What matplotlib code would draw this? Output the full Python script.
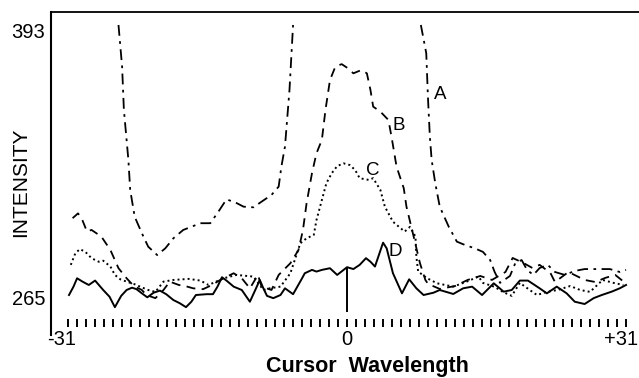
import numpy as np
import matplotlib
matplotlib.use("Agg")
import matplotlib.pyplot as plt
from matplotlib.transforms import ScaledTranslation

plt.rcParams['font.family'] = ['Liberation Sans', 'DejaVu Sans']

# curve A (off scale between the segments -> NaN gaps)
a_x = [-25.4, -25.0, -24.8, -24.3, -24.1, -23.6, -22.8, -22.1, -21.1, -20.2, -19.3,
       -18.2, -17.3, -16.3, -15.2, -14.3, -13.4, -12.4, -11.5, -10.4, -9.5, -8.4,
       -7.6, -7.3, -6.9, -6.4, -6.0,
       np.nan,
       8.2, 8.8, 8.9, 9.0, 9.2, 9.4, 9.8, 10.3, 11.3, 12.2, 13.1, 14.2, 15.1, 15.9,
       16.4, 17.0, 18.1, 18.7, 19.4, 20.0, 20.7, 21.4, 22.3, 23.1, 24.2, 25.3, 26.4,
       27.8, 29.2, 30.3, 31.0]
a_y = [395.4, 375.5, 354.8, 330.9, 316.6, 303.8, 295.9, 289.5, 285.5, 288.7, 293.5,
       297.5, 299.0, 300.7, 300.7, 306.2, 312.1, 310.6, 308.6, 308.3, 311.0, 314.2,
       318.2, 327.7, 337.3, 364.3, 395.4,
       np.nan,
       395.4, 381.9, 370.7, 359.6, 342.0, 330.9, 319.8, 308.6, 299.0, 291.9, 290.3,
       288.7, 287.0, 283.1, 277.4, 272.2, 275.5, 281.7, 283.1, 278.4, 276.0, 279.3,
       280.8, 277.4, 276.0, 277.9, 278.8, 278.8, 278.8, 277.4, 278.4]

# curve B
b_x = [-30.5, -29.9, -29.5, -28.9, -28.4, -27.3, -26.3, -25.4, -24.5, -23.7, -22.8,
       -22.3, -21.3, -20.4, -19.7, -18.7, -18.0, -17.1, -16.0, -15.0, -14.1, -12.6,
       -11.7, -10.8, -9.9, -9.5, -8.4, -7.6, -6.3, -5.4, -4.9, -4.5, -3.9, -3.4,
       -2.8, -2.4, -1.9, -1.3, -0.6, 0.1, 0.7, 1.6, 2.2, 2.6, 2.9, 3.7, 4.6, 5.0,
       5.5, 6.3, 6.6, 7.4, 8.1, 8.7, 9.0, 10.3, 12.0, 13.4, 14.8, 16.1, 17.6, 18.4,
       19.6, 20.6, 21.4, 22.6, 23.1, 24.6, 26.4, 27.6, 28.7, 29.8, 30.9]
b_y = [303.1, 305.4, 303.1, 296.7, 297.5, 294.3, 287.9, 279.2, 274.4, 270.7, 268.8,
       266.4, 264.9, 268.8, 272.8, 271.2, 270.7, 269.6, 269.2, 271.2, 273.6, 276.8,
       274.4, 269.6, 276.0, 270.4, 268.8, 276.0, 281.6, 287.9, 297.5, 310.2, 324.6,
       334.1, 340.5, 354.8, 369.1, 375.5, 376.7, 374.7, 372.3, 373.9, 372.3, 364.3,
       356.4, 354.0, 350.0, 340.5, 327.7, 317.4, 308.6, 294.3, 281.6, 273.6, 271.7,
       269.3, 270.7, 273.6, 275.5, 273.6, 277.4, 284.1, 281.7, 279.3, 280.8, 276.9,
       272.6, 277.4, 273.6, 272.6, 274.6, 276.0, 272.2]

# curve C
c_x = [-30.7, -30.2, -29.7, -29.1, -28.4, -27.6, -27.1, -26.3, -25.8, -25.2, -24.5,
       -23.7, -23.0, -22.1, -21.3, -20.4, -19.3, -17.6, -16.3, -15.4, -13.7, -12.3,
       -10.4, -9.3, -8.6, -7.4, -6.3, -5.2, -4.5, -3.7, -3.4, -2.8, -2.3, -1.7, -1.1,
       -0.4, 0.3, 0.9, 1.4, 2.4, 2.9, 3.7, 4.2, 5.1, 6.4, 7.0, 7.6, 7.7, 7.9, 8.9,
       10.0, 11.8, 13.3, 14.6, 15.1, 16.4, 17.3, 18.3, 19.2, 20.3, 21.1, 22.2, 23.4,
       24.8, 25.9, 27.0, 28.4, 29.6, 30.7]
c_y = [280.8, 286.3, 288.3, 287.1, 284.0, 282.3, 282.8, 280.0, 276.0, 273.9, 272.8,
       271.7, 270.4, 268.8, 267.9, 272.8, 273.6, 274.1, 273.3, 271.2, 274.4, 276.0,
       275.2, 268.8, 269.6, 270.4, 276.8, 291.1, 293.5, 295.1, 302.2, 311.8, 319.8,
       324.6, 328.0, 329.3, 328.5, 326.1, 322.2, 321.4, 322.2, 316.6, 308.6, 301.4,
       296.7, 299.0, 294.3, 284.7, 277.6, 274.4, 272.0, 270.4, 272.8, 275.2, 272.2,
       270.3, 267.9, 266.0, 272.2, 268.8, 266.4, 267.9, 268.8, 270.7, 268.8, 267.9,
       273.6, 272.2, 271.2]

# curve D
d_x = [-30.9, -30.4, -30.0, -29.4, -28.7, -28.0, -27.1, -26.4, -25.8, -25.1, -24.5,
       -23.9, -23.4, -22.8, -22.2, -21.5, -20.8, -20.1, -19.3, -18.6, -17.9, -17.3,
       -16.8, -15.6, -14.9, -14.4, -13.9, -13.4, -12.6, -11.7, -10.8, -10.2, -9.7,
       -9.3, -8.9, -8.2, -7.4, -6.9, -6.0, -5.0, -4.7, -3.9, -3.4, -2.8, -1.9, -1.1,
       0.0, 0.7, 1.4, 2.1, 2.6, 3.1, 4.0, 4.4, 5.1, 6.1, 6.9, 7.7, 8.5, 9.6, 10.3,
       11.8, 12.9, 13.9, 15.0, 16.3, 17.4, 18.3, 19.2, 20.1, 21.4, 22.2, 23.3, 24.4,
       25.3, 26.4, 27.4, 28.3, 29.4, 30.3, 31.0]
d_y = [266.4, 270.4, 274.4, 272.8, 271.2, 273.3, 268.8, 265.6, 260.6, 266.0, 268.8,
       269.9, 269.2, 267.2, 265.3, 267.5, 268.5, 266.8, 264.0, 262.5, 260.6, 263.2,
       266.4, 266.8, 266.8, 270.4, 274.9, 273.3, 270.4, 268.8, 263.2, 268.8, 273.6,
       269.6, 266.0, 264.9, 266.4, 269.6, 266.8, 274.4, 276.8, 278.4, 277.6, 278.4,
       279.2, 276.0, 279.7, 278.8, 280.8, 284.0, 282.3, 280.0, 291.4, 288.7, 276.8,
       267.2, 273.9, 269.6, 266.4, 267.5, 268.8, 266.9, 269.6, 270.4, 266.4, 272.0,
       268.0, 268.8, 273.3, 273.3, 269.6, 267.2, 270.4, 267.2, 263.2, 262.1, 264.9,
       266.4, 268.0, 269.6, 271.2]

# cursor marker at 0
cursor_x = 0.0
cursor_y = (258.3, 279.7)

labels = ["A", "B", "C", "D"]
label_pos = [(10.4, 362.0), (5.7, 347.6), (2.8, 326.1), (5.4, 287.0)]

ytick_vals = [265, 393]
xtick_vals = [-31, 0, 31]
xtick_labels = ["-31", "0", "+31"]

fig = plt.figure(figsize=(6.39, 3.78), dpi=100)
ax = fig.add_axes([51 / 639, 1 - 335 / 378, 588 / 639, 323 / 378])

ax.plot(a_x, a_y, color="k", lw=1.3, linestyle=(0, (6, 3, 1.5, 3)))
ax.plot(b_x, b_y, color="k", lw=1.3, linestyle=(0, (5, 3.5)))
ax.plot(c_x, c_y, color="k", lw=1.4, linestyle=(0, (1, 1.6)))
ax.plot(d_x, d_y, color="k", lw=1.4)
ax.vlines(cursor_x, cursor_y[0], cursor_y[1], color="k", lw=1.4)

for lab, (lx, ly) in zip(labels, label_pos):
    ax.text(lx, ly, lab, fontsize=13.5, ha="center", va="center")

ax.set_xlim(-32.9, 32.44)
ax.set_ylim(247.3, 401.6)

for s in ["right", "bottom"]:
    ax.spines[s].set_visible(False)
ax.spines["left"].set_linewidth(1.5)
ax.spines["top"].set_linewidth(1.3)
ax.spines["bottom"].set_position(("data", 251.15))

ax.set_xticks(xtick_vals)
ax.set_xticklabels(xtick_labels, fontsize=14.5)
ax.set_xticks(np.arange(-31, 32), minor=True)
ax.tick_params(axis="x", which="both", direction="in", length=5.5, width=1.4, pad=2)
xl = ax.get_xticklabels()
xl[0].set_transform(xl[0].get_transform() + ScaledTranslation(-6 / 100, 0, fig.dpi_scale_trans))
xl[2].set_transform(xl[2].get_transform() + ScaledTranslation(-5 / 100, 0, fig.dpi_scale_trans))

ax.set_yticks(ytick_vals)
ax.set_yticklabels([str(v) for v in ytick_vals], fontsize=14.5)
ax.tick_params(axis="y", length=0, pad=4)

ax.set_ylabel("INTENSITY", fontsize=15)
ax.yaxis.set_label_coords(-(51 - 30) / 588, (335 - 182) / 323)
ax.set_xlabel("Cursor  Wavelength", fontsize=15.5, fontweight="bold")
ax.xaxis.set_label_coords((367 - 51) / 588, -(356 - 335) / 323)

fig.savefig("out.png", dpi=100)
